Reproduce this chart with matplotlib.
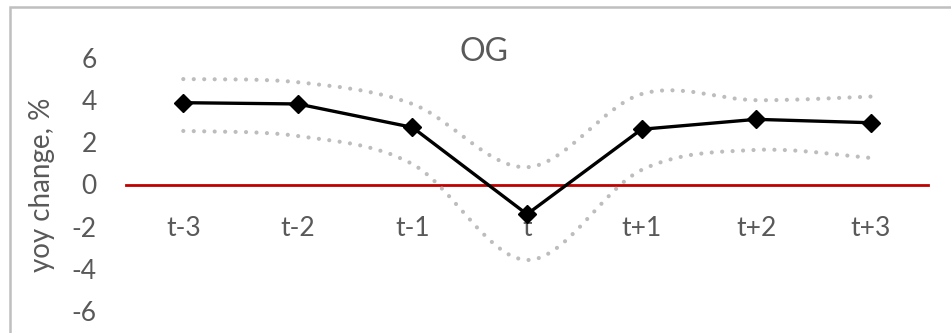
import matplotlib
matplotlib.use("Agg")
from matplotlib import pyplot as plt
from matplotlib.path import Path
from matplotlib.patches import PathPatch, Rectangle
import numpy as np

# chart data
periods = ["t-3", "t-2", "t-1", "t", "t+1", "t+2", "t+3"]
og_mean = [3.88, 3.82, 2.71, -1.41, 2.62, 3.09, 2.93]
og_upper = [5.0, 4.85, 3.82, 0.82, 4.29, 4.0, 4.17]
og_lower = [2.54, 2.3, 0.97, -3.58, 0.69, 1.64, 1.26]
y_ticks = [-6, -4, -2, 0, 2, 4, 6]

GRAY_TXT = "#595959"
plt.rcParams["font.family"] = ["Lato", "DejaVu Sans"]
plt.rcParams["axes.unicode_minus"] = False


def smooth_path(xs, ys):
    # excel-style smoothed line: catmull-rom segments as cubic beziers
    pts = np.column_stack([xs, ys]).astype(float)
    n = len(pts)
    verts = [pts[0]]
    codes = [Path.MOVETO]
    for i in range(n - 1):
        p0 = pts[i - 1] if i > 0 else pts[i]
        p1 = pts[i]
        p2 = pts[i + 1]
        p3 = pts[i + 2] if i + 2 < n else pts[i + 1]
        c1 = p1 + (p2 - p0) / 6.0
        c2 = p2 - (p3 - p1) / 6.0
        verts += [c1, c2, p2]
        codes += [Path.CURVE4] * 3
    return Path(verts, codes)


fig = plt.figure(figsize=(9.51, 3.33), dpi=100)
ax = fig.add_axes([126 / 951, 1 - 311 / 333, 802 / 951, 253 / 333])

x = np.arange(len(periods))

for band in (og_upper, og_lower):
    patch = PathPatch(smooth_path(x, band), fill=False, edgecolor="#BDBDBD",
                      linewidth=3.0, linestyle=(0, (0.01, 2.5)), zorder=2)
    patch.set_capstyle("round")
    ax.add_patch(patch)

ax.plot(x, og_mean, color="black", linewidth=2.4, marker="D",
        markersize=9, markeredgewidth=1, zorder=3)

ax.set_xlim(-0.5, len(periods) - 0.5)
ax.set_ylim(-6, 6)
ax.set_xticks(x)
ax.set_xticklabels(periods)
ax.set_yticks(y_ticks)

for s in ("top", "right", "left"):
    ax.spines[s].set_visible(False)
ax.spines["bottom"].set_position(("data", 0))
ax.spines["bottom"].set_color("#C00000")
ax.spines["bottom"].set_linewidth(2)
ax.spines["bottom"].set_zorder(1)

ax.tick_params(axis="both", length=0, labelsize=19, labelcolor=GRAY_TXT)
ax.tick_params(axis="y", pad=21)
ax.tick_params(axis="x", pad=23)

fig.text(484 / 951, 1 - 52 / 333, "OG", fontsize=23, color=GRAY_TXT,
         ha="center", va="center")
fig.text(42 / 951, 1 - 185 / 333, "yoy change, %", fontsize=20,
         color=GRAY_TXT, rotation=90, ha="center", va="center")

# chart frame, only top and left edges fall inside the crop
fig.patches.append(Rectangle((10 / 951, -0.2), 1.2, 1.2 - 7 / 333,
                             transform=fig.transFigure, fill=False,
                             edgecolor="#BFBFBF", linewidth=1.8))

fig.savefig("out.png", dpi=100)
